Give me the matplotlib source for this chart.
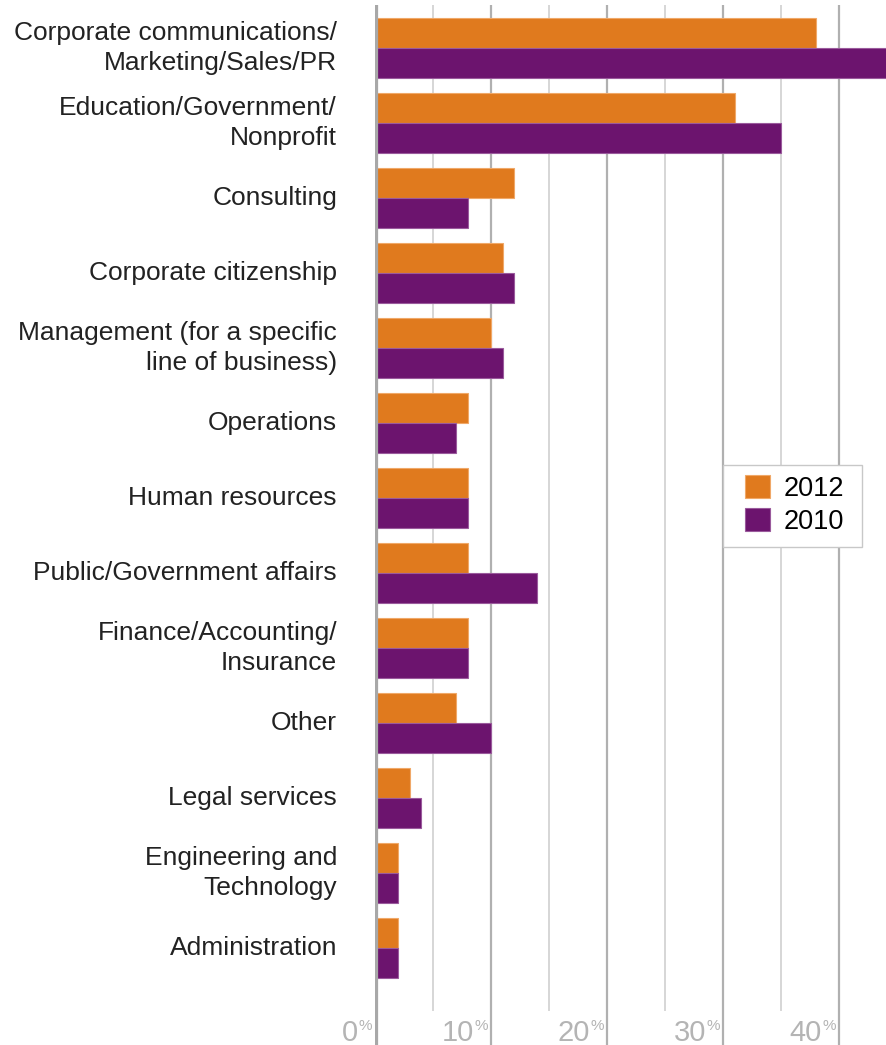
import numpy as np
import matplotlib.pyplot as plt
from matplotlib.patches import Rectangle

# --- data -------------------------------------------------------------
categories = ["Corporate communications/\nMarketing/Sales/PR",
              "Education/Government/\nNonprofit",
              "Consulting",
              "Corporate citizenship",
              "Management (for a specific\nline of business)",
              "Operations",
              "Human resources",
              "Public/Government affairs",
              "Finance/Accounting/\nInsurance",
              "Other",
              "Legal services",
              "Engineering and\nTechnology",
              "Administration"]
vals_2012 = [38, 31, 12, 11, 10, 8, 8, 8, 8, 7, 3, 2, 2]
vals_2010 = [46, 35, 8, 12, 11, 7, 8, 14, 8, 10, 4, 2, 2]
series_names = ["2012", "2010"]
tick_vals = [0, 10, 20, 30, 40]

orange = "#E07A1E"
purple = "#6C146E"

plt.rcParams['font.family'] = ['Liberation Sans', 'DejaVu Sans']

W, H = 887, 1045
fig = plt.figure(figsize=(W / 100, H / 100), dpi=100)
# axes from pixel x=375 to right edge, y=5 to bottom
ax = fig.add_axes([375 / W, 0, 1 - 375 / W, 1 - 5 / H])

y = np.arange(len(categories))
bh = 0.4
ax.barh(y - bh / 2, vals_2012, height=bh, color=orange, edgecolor="#F0A868",
        linewidth=0.8, label=series_names[0], zorder=3)
ax.barh(y + bh / 2, vals_2010, height=bh, color=purple, edgecolor="#9A5A9C",
        linewidth=0.8, label=series_names[1], zorder=3)

ax.set_xlim(0, (W - 375) / 11.6)
top_i = (5 - 48) / 75
bot_i = (H - 48) / 75
ax.set_ylim(bot_i, top_i)

# gridlines: full at 10%, short at 5%
for v in range(5, 45, 5):
    if v % 10 == 0:
        ax.axvline(v, ymin=0, ymax=1, color="#b0b0b0", lw=1.6, zorder=1)
    else:
        ax.axvline(v, ymin=35 / (H - 5), ymax=1, color="#d6d6d6", lw=1.4, zorder=1)
ax.axvline(0, color="#a8a8a8", lw=4.5, zorder=4)

for s in ax.spines.values():
    s.set_visible(False)
ax.set_xticks([])
ax.set_yticks([])

# category labels, right-aligned left of the axis
for i, c in enumerate(categories):
    ax.annotate(c, xy=(0, i), xytext=(-38, 0), textcoords="offset pixels",
                ha="right", va="center", fontsize=19, color="#222222",
                linespacing=1.32, annotation_clip=False)

# x tick labels: big digits with small raised percent sign
ty = (1019 - 48) / 75
for t in tick_vals:
    ax.annotate("%", xy=(t, ty), xytext=(-3, 0), textcoords="offset pixels",
                ha="right", va="top", fontsize=11, color="#b4b4b4",
                annotation_clip=False)
    ax.annotate(str(t), xy=(t, ty), xytext=(-17, 0), textcoords="offset pixels",
                ha="right", va="top", fontsize=21, color="#b4b4b4",
                annotation_clip=False)

# legend: frame drawn by hand so the padding matches
frame = Rectangle((723 / W, 1 - 547 / H), 139 / W, 82 / H, transform=fig.transFigure,
                  facecolor="white", edgecolor="#c8c8c8", lw=1.0, zorder=9)
ax.add_patch(frame)
frame.set_clip_on(False)
leg = ax.legend(loc="upper left", bbox_to_anchor=(745 / W, 1 - 475 / H),
                bbox_transform=fig.transFigure, borderaxespad=0, borderpad=0,
                frameon=False, fontsize=19.5, handlelength=0.93, handleheight=0.93,
                labelspacing=0.22, handletextpad=0.48)
leg.set_zorder(10)

fig.savefig("out.png", dpi=100)
